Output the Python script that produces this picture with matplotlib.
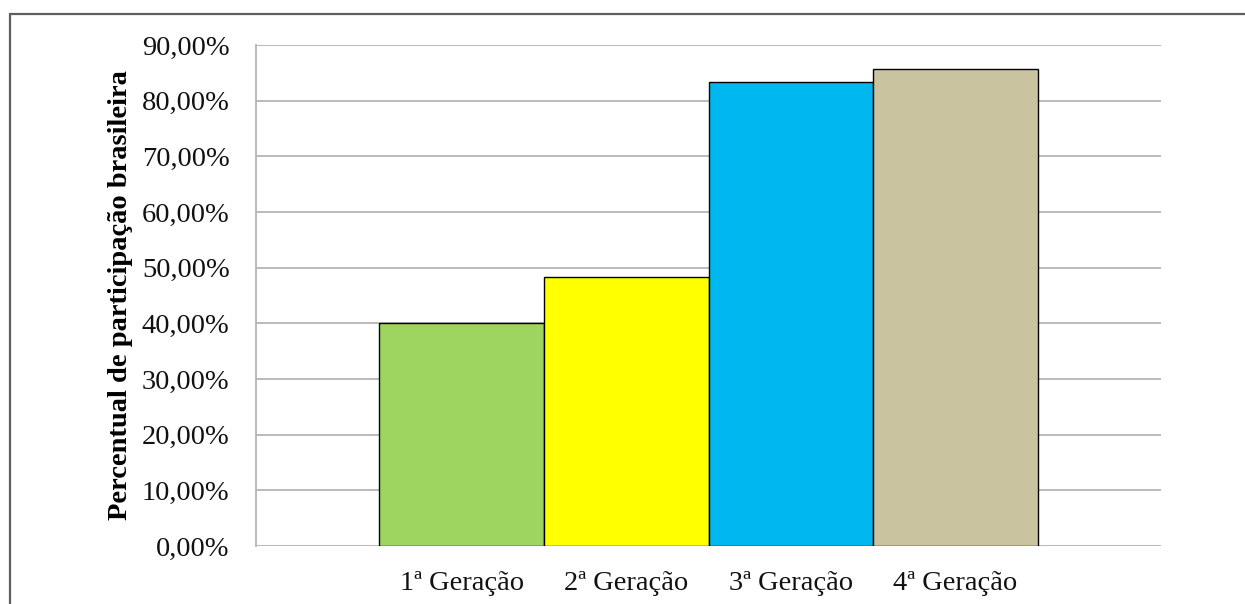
import numpy as np
import matplotlib
matplotlib.use("Agg")
import matplotlib.pyplot as plt
from matplotlib.patches import Rectangle
from matplotlib.ticker import FuncFormatter

# participação brasileira por geração
geracoes = ["1ª Geração", "2ª Geração", "3ª Geração", "4ª Geração"]
percentuais = [40.0, 48.4, 83.4, 85.6]
cores = ["#9dd55e", "#ffff00", "#00b7f0", "#c9c39f"]
marcas_y = [0, 10, 20, 30, 40, 50, 60, 70, 80, 90]

plt.rcParams["font.family"] = ["Liberation Serif", "DejaVu Serif"]

fig = plt.figure(figsize=(12.45, 6.04), dpi=100)
ax = fig.add_axes([256 / 1245, 1 - 546 / 604, 905 / 1245, 501 / 604])

x = np.arange(len(geracoes))
ax.bar(x, percentuais, width=1.0, color=cores, edgecolor="black", linewidth=1.0, zorder=3)

ax.set_xlim(-1.25, 4.25)
ax.set_ylim(0, 90)
ax.set_yticks(marcas_y)
ax.yaxis.set_major_formatter(FuncFormatter(lambda v, p: f"{v:.2f}%".replace(".", ",")))
ax.set_xticks(x)
ax.set_xticklabels(geracoes)
ax.tick_params(axis="y", length=0, pad=19, labelsize=20.5, labelcolor="#111111")
ax.tick_params(axis="x", length=0, pad=18, labelsize=20.5, labelcolor="#111111")

ax.grid(axis="y", color="#b4b4b4", linewidth=1.3, zorder=0)
for lado in ["top", "right", "bottom"]:
    ax.spines[lado].set_visible(False)
ax.spines["left"].set_color("#b4b4b4")
ax.spines["left"].set_linewidth(1.3)

ax.set_ylabel("Percentual de participação brasileira", fontsize=20.5, fontweight="bold")
ax.yaxis.set_label_coords(-0.136, 0.5)

# moldura externa do gráfico
fig.add_artist(Rectangle((10 / 1245, -0.1), 1.2, 1.1 - 14 / 604, transform=fig.transFigure,
                         fill=False, edgecolor="#5f5f5f", linewidth=1.6))

fig.savefig("out.png", dpi=100)
